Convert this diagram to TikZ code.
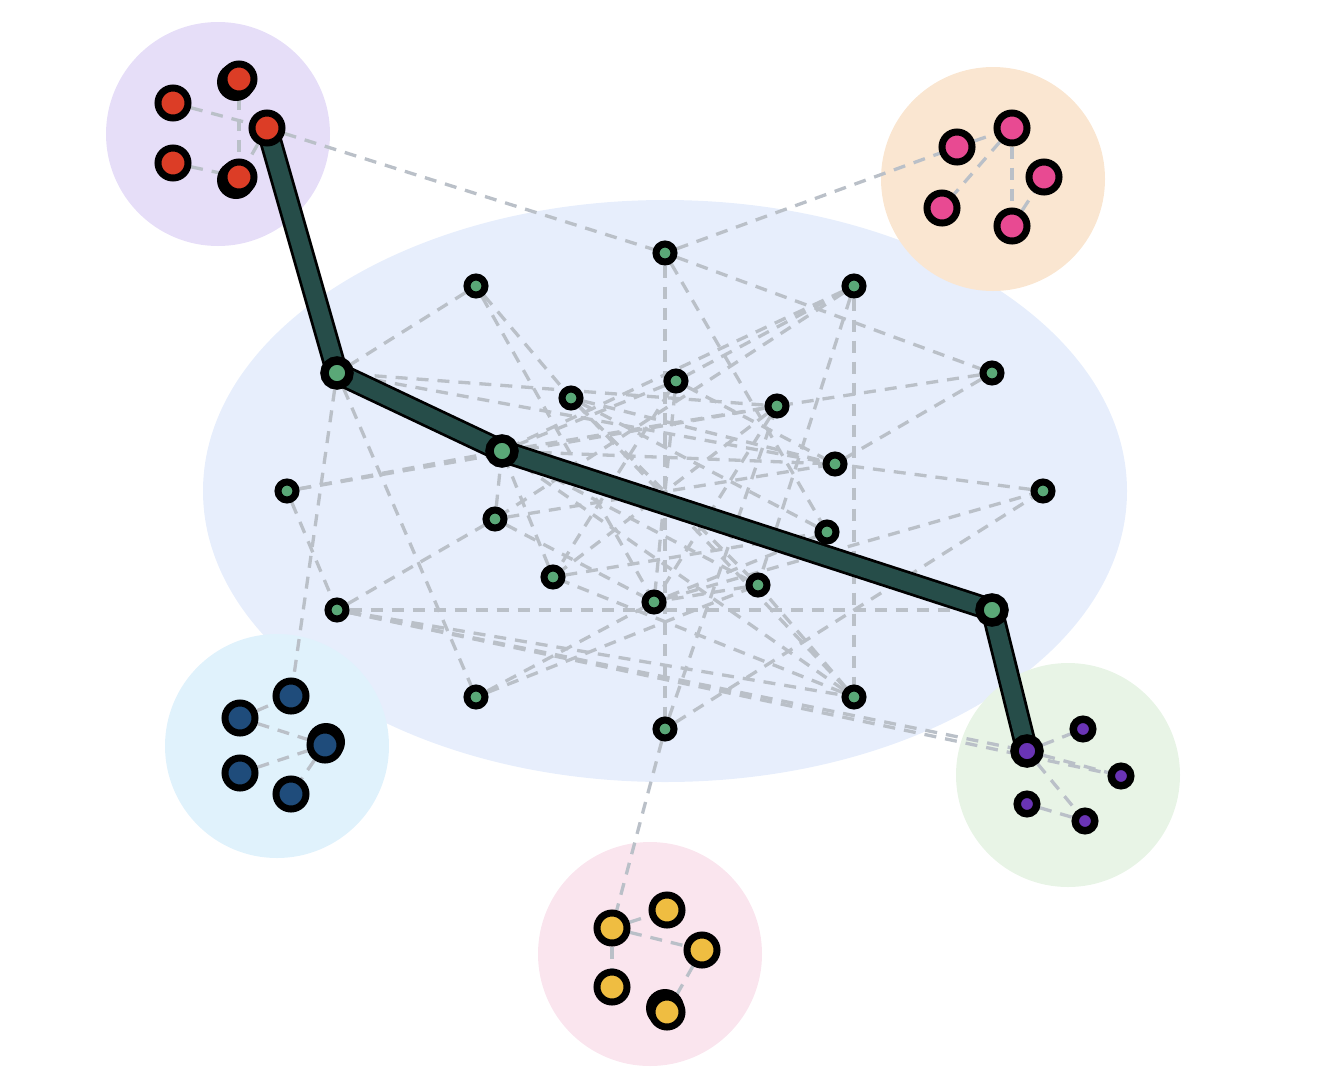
\documentclass[tikz,border=0pt]{standalone}
\usetikzlibrary{backgrounds}
\definecolor{bigbg}{RGB}{231,238,252}
\definecolor{redbg}{RGB}{230,222,248}
\definecolor{pinkbg}{RGB}{250,230,209}
\definecolor{bluebg}{RGB}{224,242,252}
\definecolor{purplebg}{RGB}{232,244,230}
\definecolor{yellowbg}{RGB}{250,229,238}
\definecolor{gfill}{RGB}{90,168,119}
\definecolor{rfill}{RGB}{220,61,38}
\definecolor{pfill}{RGB}{232,74,146}
\definecolor{bfill}{RGB}{31,76,123}
\definecolor{ufill}{RGB}{106,52,181}
\definecolor{yfill}{RGB}{239,189,65}
\definecolor{pathgreen}{RGB}{38,77,73}
\definecolor{edgegray}{RGB}{186,192,200}
\pgfdeclarelayer{bglayer}
\pgfdeclarelayer{edgelayer}
\pgfsetlayers{bglayer,edgelayer,main}
\tikzset{
  gnode/.style={circle, draw=black, line width=7pt, fill=gfill, minimum size=18pt, inner sep=0pt},
  pathnode/.style={circle, draw=black, line width=8.5pt, fill=gfill, minimum size=25pt, inner sep=0pt},
  cnode/.style={circle, draw=black, line width=7pt, minimum size=30pt, inner sep=0pt},
  smallnode/.style={circle, draw=black, line width=7.5pt, fill=ufill, minimum size=19.5pt, inner sep=0pt},
  bignode/.style={circle, draw=black, line width=8.5pt, fill=ufill, minimum size=25pt, inner sep=0pt},
  edgeline/.style={draw=edgegray, line width=3.3pt, dash pattern=on 12pt off 9pt},
}
\begin{document}
\begin{tikzpicture}[x=1pt,y=-1pt]
\useasboundingbox (0,0) rectangle (1320,1080);
% nodes: central
\node[gnode] (g1) at (665,253) {};
\node[gnode] (g2) at (476,286) {};
\node[gnode] (g3) at (854,286) {};
\node[pathnode] (g4) at (337,373) {};
\node[gnode] (g5) at (676,381) {};
\node[gnode] (g6) at (571,398) {};
\node[gnode] (g7) at (777,406) {};
\node[gnode] (g8) at (992,373) {};
\node[pathnode] (g9) at (502,451) {};
\node[gnode] (g10) at (287,491) {};
\node[gnode] (g11) at (835,464) {};
\node[gnode] (g12) at (1043,491) {};
\node[gnode] (g13) at (495,519) {};
\node[gnode] (g14) at (827,532) {};
\node[gnode] (g15) at (553,577) {};
\node[gnode] (g16) at (758,585) {};
\node[gnode] (g17) at (654,602) {};
\node[gnode] (g18) at (337,610) {};
\node[pathnode] (g19) at (992,610) {};
\node[gnode] (g20) at (476,697) {};
\node[gnode] (g21) at (854,697) {};
\node[gnode] (g22) at (665,729) {};
% red cluster
\fill[black] (236,82) circle (19pt);
\fill[black] (236,180) circle (19pt);
\node[cnode, fill=rfill] (ra) at (173,103) {};
\node[cnode, fill=rfill] (rb) at (239,79) {};
\node[cnode, fill=rfill] (rc) at (267,128) {};
\node[cnode, fill=rfill] (rd) at (173,163) {};
\node[cnode, fill=rfill] (re) at (239,177) {};
% pink cluster
\node[cnode, fill=pfill] (pa) at (957,147) {};
\node[cnode, fill=pfill] (pb) at (1012,128) {};
\node[cnode, fill=pfill] (pc) at (1044,177) {};
\node[cnode, fill=pfill] (pd) at (942,208) {};
\node[cnode, fill=pfill] (pe) at (1012,226) {};
% blue cluster
\fill[black] (326,742) circle (19pt);
\node[cnode, fill=bfill] (ba) at (291,696) {};
\node[cnode, fill=bfill] (bb) at (240,718) {};
\node[cnode, fill=bfill] (bc) at (325,745) {};
\node[cnode, fill=bfill] (bd) at (240,773) {};
\node[cnode, fill=bfill] (be) at (291,794) {};
% purple cluster
\node[bignode] (ua) at (1027,751) {};
\node[smallnode] (ub) at (1083,729) {};
\node[smallnode] (uc) at (1121,776) {};
\node[smallnode] (ud) at (1027,804) {};
\node[smallnode] (ue) at (1085,821) {};
% yellow cluster
\fill[black] (665,1008) circle (19pt);
\node[cnode, fill=yfill] (ya) at (667,910) {};
\node[cnode, fill=yfill] (yb) at (612,928) {};
\node[cnode, fill=yfill] (yc) at (702,950) {};
\node[cnode, fill=yfill] (yd) at (612,987) {};
\node[cnode, fill=yfill] (ye) at (667,1012) {};
% backgrounds
\begin{pgfonlayer}{bglayer}
\fill[bigbg] (665,491) ellipse [x radius=462, y radius=291];
\fill[redbg] (218,134) circle (112);
\fill[pinkbg] (993,179) circle (112);
\fill[bluebg] (277,746) circle (112);
\fill[purplebg] (1068,775) circle (112);
\fill[yellowbg] (650,954) circle (112);
\end{pgfonlayer}
% edges
\begin{pgfonlayer}{edgelayer}
\foreach \a/\b in {ra/rc, rb/re, rd/re, rc/re,
  pa/pb, pb/pd, pb/pe, pe/pc,
  bb/ba, bb/bc, bd/bc, bc/be,
  ua/ub, ua/uc, ua/ue, ud/ue,
  yb/ya, yb/yc, yb/yd, yc/ye,
  rc/g1, g1/pa, g1/g8, g1/g22, g1/g14,
  g2/g4, g2/g6, g2/g17,
  g3/g21, g3/g13, g3/g9, g3/g16, g3/g5,
  g4/g11, g4/g7, g4/ba, g4/g20,
  g10/g9, g10/g7, g10/g18,
  g18/g19, g18/g21, g18/ua, g18/uc, g18/g13,
  g13/g17, g13/g9, g13/g11,
  g15/g14, g15/g9,
  g20/g17, g20/g16,
  g22/g12, g22/g7, g22/yb,
  g17/g12, g12/g11, g8/g11, g8/g7,
  g21/g16, g21/g9, g21/g6, g21/g15,
  g5/g11, g5/g9, g5/g15, g5/g17,
  g6/g11, g6/g14, g6/g16,
  g7/g9, g7/g15, g7/g17,
  g9/g16, g9/g11, g14/g17, g16/g17}
  \draw[edgeline] (\a) -- (\b);
\draw[black, line width=23pt, line join=round, line cap=round]
  (rc.center) -- (g4.center) -- (g9.center) -- (g19.center) -- (ua.center);
\draw[pathgreen, line width=17.5pt, line join=round, line cap=round]
  (rc.center) -- (g4.center) -- (g9.center) -- (g19.center) -- (ua.center);
\end{pgfonlayer}
\end{tikzpicture}
\end{document}
